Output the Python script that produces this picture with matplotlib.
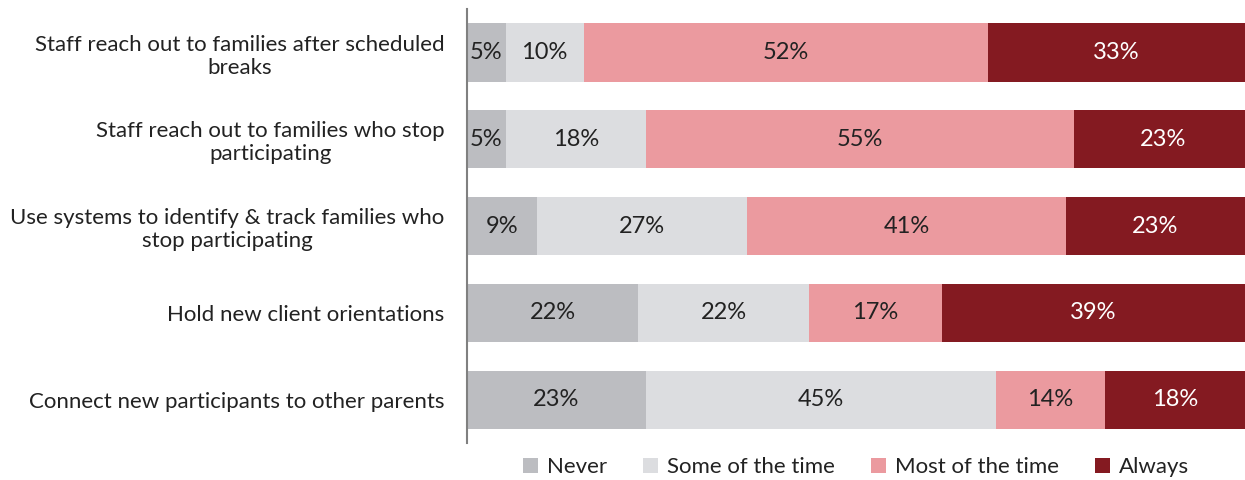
import matplotlib.pyplot as plt
import numpy as np

plt.rcParams['font.family'] = ['Lato', 'DejaVu Sans']

categories = [
    'Staff reach out to families after scheduled\nbreaks',
    'Staff reach out to families who stop\nparticipating',
    'Use systems to identify & track families who\nstop participating',
    'Hold new client orientations',
    'Connect new participants to other parents',
]
series = ['Never', 'Some of the time', 'Most of the time', 'Always']
never = [5, 5, 9, 22, 23]
some = [10, 18, 27, 22, 45]
most = [52, 55, 41, 17, 14]
always = [33, 23, 23, 39, 18]

colors = ['#bcbdc1', '#dcdde0', '#eb9a9f', '#841a21']
text_colors = ['#222222', '#222222', '#222222', 'white']

fig = plt.figure(figsize=(12.45, 4.8), dpi=100)
ax = fig.add_axes([0.375, 0.077, 0.625, 0.904])

y = np.arange(len(categories))
left = np.zeros(len(categories))
for name, vals, c, tc in zip(series, [never, some, most, always], colors, text_colors):
    vals = np.array(vals, dtype=float)
    ax.barh(y, vals, left=left, height=0.67, color=c, label=name)
    for yi, l, v in zip(y, left, vals):
        ax.text(l + v / 2, yi, f'{int(v)}%', ha='center', va='center',
                fontsize=17, color=tc)
    left += vals

ax.set_xlim(0, 100)
ax.set_ylim(4.5, -0.5)
ax.set_yticks(y)
ax.set_yticklabels(categories, fontsize=16, color='#222222', multialignment='center')
ax.tick_params(axis='y', length=0, pad=16)
ax.set_xticks([])
for s in ['top', 'right', 'bottom']:
    ax.spines[s].set_visible(False)
ax.spines['left'].set_color('#808080')
ax.spines['left'].set_linewidth(1.5)

ax.legend(loc='center', bbox_to_anchor=(0.5, -0.056), ncol=4, frameon=False,
          fontsize=16, handlelength=0.7, handleheight=0.7, handletextpad=0.4,
          columnspacing=1.6, labelcolor='#222222')

fig.savefig('out.png', dpi=100)
